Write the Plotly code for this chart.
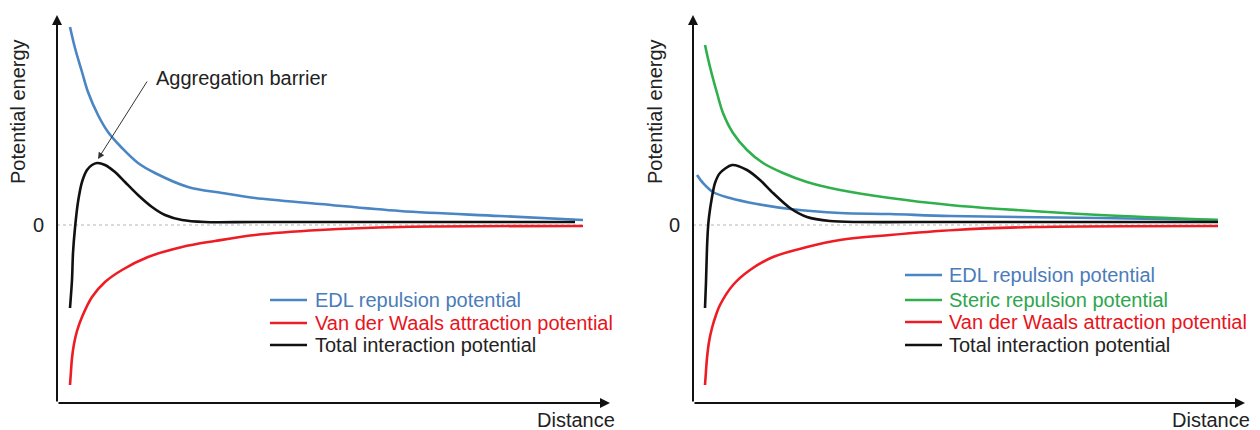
import plotly.graph_objects as go

# ---------------- data (arbitrary units: distance, potential energy) ----------------
# Left panel
edl_L_x = [13, 18, 25, 31, 41, 51, 65, 81, 98, 131, 165, 198, 263, 343, 443, 526]
edl_L_y = [198, 177, 153, 133, 110, 93, 77, 62, 52, 38, 32, 27, 21, 14, 9, 5]
vdw_L_x = [13, 14, 15, 17, 20, 25, 35, 48, 65, 91, 125, 158, 198, 263, 343, 526]
vdw_L_y = [-160, -146, -133, -119, -106, -92, -72, -57, -45, -32, -22, -16, -10, -5, -2, -1]
tot_L_x = [13, 15, 16, 18, 21, 25, 30, 35, 40, 48, 58, 68, 81, 95, 108, 125, 148, 198, 518]
tot_L_y = [-83, -55, -28, -3, 23, 43, 55, 60, 62, 60, 53, 43, 30, 18, 10, 5, 3, 3, 3]

# Right panel
edl_R_x = [4, 10, 20, 37, 64, 97, 147, 197, 257, 407, 525]
edl_R_y = [50, 42, 33, 27, 21, 16, 12, 11, 9, 7, 5]
ste_R_x = [12, 17, 24, 30, 40, 54, 70, 90, 114, 147, 197, 257, 307, 407, 525]
ste_R_y = [180, 158, 132, 112, 92, 75, 62, 52, 43, 35, 27, 20, 16, 10, 5]
vdw_R_x = [12, 13, 14, 16, 19, 23, 27, 40, 57, 80, 114, 147, 197, 262, 342, 525]
vdw_R_y = [-160, -146, -133, -117, -103, -90, -80, -60, -45, -32, -22, -15, -10, -5, -2, -1]
tot_R_x = [12, 13, 14, 15, 16, 19, 22, 27, 39, 54, 67, 80, 97, 114, 137, 164, 257, 525]
tot_R_y = [-83, -57, -23, -3, 8, 28, 42, 52, 60, 55, 45, 32, 17, 8, 4, 3, 3, 3]

names = {
    "edl": "EDL repulsion potential",
    "ste": "Steric repulsion potential",
    "vdw": "Van der Waals attraction potential",
    "tot": "Total interaction potential",
}
legend_L = ["edl", "vdw", "tot"]
legend_R = ["edl", "ste", "vdw", "tot"]
# ------------------------------------------------------------------------------------

FONT = "Liberation Sans, Arial, sans-serif"
FS = 20
C_TEXT = "#222222"
LINE_COL = {"edl": "#4a85c4", "ste": "#2fb04c", "vdw": "#ee1c24", "tot": "#111111"}
TEXT_COL = {"edl": "#4a7cba", "ste": "#2ea64d", "vdw": "#e8141c", "tot": "#222222"}
SMOOTH = {"edl": 1.0, "ste": 1.0, "vdw": 1.0, "tot": 0.8}
LW = 2.6

fig = go.Figure()

def add(x, y, key, xa, ya):
    fig.add_trace(go.Scatter(
        x=x, y=y, mode="lines",
        line=dict(color=LINE_COL[key], width=LW, shape="spline", smoothing=SMOOTH[key]),
        name=names[key], xaxis=xa, yaxis=ya, hoverinfo="skip", showlegend=False))

add(edl_L_x, edl_L_y, "edl", "x", "y")
add(vdw_L_x, vdw_L_y, "vdw", "x", "y")
add(tot_L_x, tot_L_y, "tot", "x", "y")
add(edl_R_x, edl_R_y, "edl", "x2", "y2")
add(ste_R_x, ste_R_y, "ste", "x2", "y2")
add(vdw_R_x, vdw_R_y, "vdw", "x2", "y2")
add(tot_R_x, tot_R_y, "tot", "x2", "y2")

W, H = 1260, 430
XR_L, XR_R = [0, 553], [0, 552]
YR = [-178, 210]

xcommon = dict(showgrid=False, zeroline=False, showticklabels=False, ticks="", showline=False)
ycommon = dict(showgrid=False, zeroline=False, showline=False, ticks="",
               tickvals=[0], ticktext=["0"], tickfont=dict(size=FS, color=C_TEXT, family=FONT),
               ticklabelstandoff=12, range=YR)

fig.update_layout(
    width=W, height=H, margin=dict(l=0, r=0, t=0, b=0),
    paper_bgcolor="white", plot_bgcolor="white",
    font=dict(family=FONT, size=FS, color=C_TEXT),
    showlegend=False,
    xaxis=dict(domain=[57 / W, 610 / W], range=XR_L, **xcommon),
    yaxis=dict(domain=[(H - 403) / H, (H - 15) / H], anchor="x", **ycommon),
    xaxis2=dict(domain=[693 / W, 1245 / W], range=XR_R, anchor="y2", **xcommon),
    yaxis2=dict(domain=[(H - 403) / H, (H - 15) / H], anchor="x2", **ycommon),
)

# dotted zero reference lines
for xr, suf in ((526, ""), (525, "2")):
    fig.add_shape(type="line", x0=0, x1=xr, y0=0, y1=0, xref="x" + suf, yref="y" + suf,
                  line=dict(color="#b5b5b5", width=1, dash="dot"), layer="below")

# axis arrows, axis titles
for xs, xr, ycen in (("x", XR_L[1], 18), ("x2", XR_R[1], 655)):
    ys = xs.replace("x", "y")
    fig.add_annotation(x=xr, y=YR[0], ax=0, ay=YR[0], xref=xs, yref=ys, axref=xs, ayref=ys,
                       text="", showarrow=True, arrowhead=2, arrowsize=1, arrowwidth=2,
                       arrowcolor="#111", standoff=0, startstandoff=0)
    fig.add_annotation(x=0, y=YR[1], ax=0, ay=YR[0], xref=xs, yref=ys, axref=xs, ayref=ys,
                       text="", showarrow=True, arrowhead=2, arrowsize=1, arrowwidth=2,
                       arrowcolor="#111", standoff=0, startstandoff=0)
    fig.add_annotation(x=xr, y=YR[0], xref=xs, yref=ys, text="Distance", showarrow=False,
                       xanchor="right", yanchor="top", yshift=-4, xshift=7,
                       font=dict(size=FS, color=C_TEXT, family=FONT))
    fig.add_annotation(x=ycen / W, y=1 - 112 / H, xref="paper", yref="paper",
                       text="Potential energy", textangle=-90, showarrow=False,
                       xanchor="center", yanchor="middle",
                       font=dict(size=FS, color=C_TEXT, family=FONT))

# aggregation barrier callout
fig.add_annotation(x=41, y=66, ax=91, ay=145, xref="x", yref="y", axref="x", ayref="y",
                   text="", showarrow=True, arrowhead=2, arrowsize=1.3, arrowwidth=1,
                   arrowcolor="#333", standoff=0, startstandoff=0)
fig.add_annotation(x=97, y=147, xref="x", yref="y", text="Aggregation barrier", showarrow=False,
                   xanchor="left", yanchor="middle", font=dict(size=FS, color=C_TEXT, family=FONT))

# legends (drawn as line samples + coloured labels)
def legend(keys, rows, x_line0, x_line1, x_text):
    for key, yrow in zip(keys, rows):
        fig.add_shape(type="line", xref="paper", yref="paper",
                      x0=x_line0 / W, x1=x_line1 / W, y0=1 - yrow / H, y1=1 - yrow / H,
                      line=dict(color=LINE_COL[key], width=LW))
        fig.add_annotation(x=x_text / W, y=1 - yrow / H, xref="paper", yref="paper",
                           text=names[key], showarrow=False, xanchor="left", yanchor="middle",
                           font=dict(size=FS, color=TEXT_COL[key], family=FONT))

legend(legend_L, [300, 323, 345], 270, 307, 313)
legend(legend_R, [275, 300, 322, 345], 905, 942, 947)

fig.write_html("out.html")
